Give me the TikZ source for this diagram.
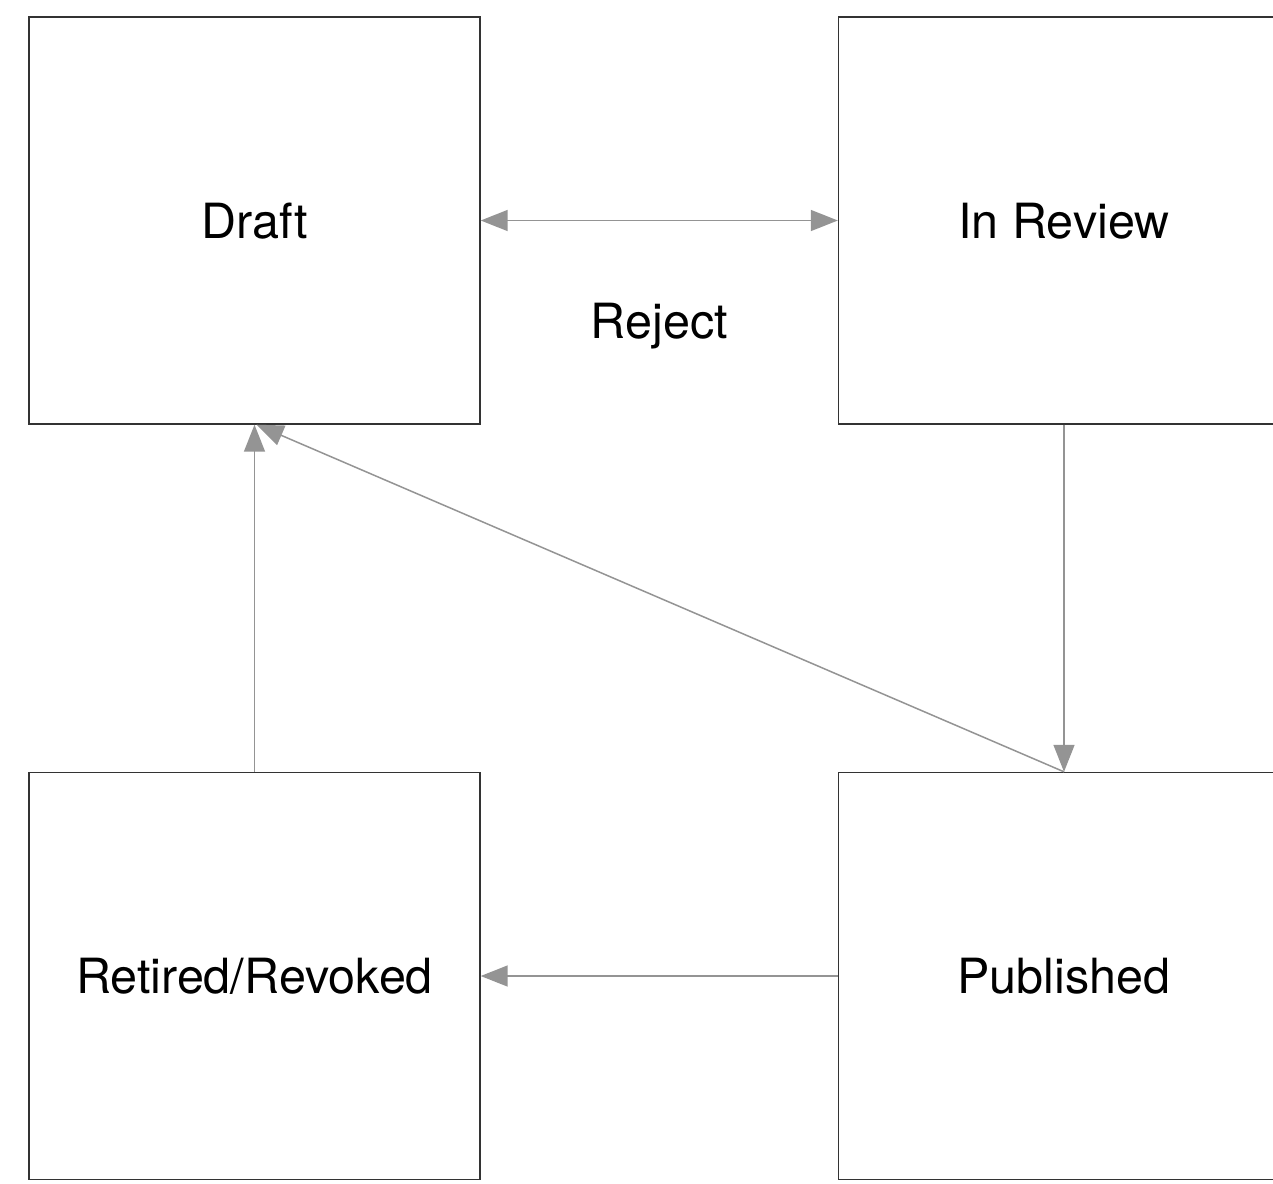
\documentclass[tikz,border=0pt]{standalone}
\usepackage{fontspec}
\setmainfont{TeX Gyre Heros}
\usetikzlibrary{arrows.meta}
\begin{document}
\begin{tikzpicture}[x=1pt,y=-1pt,
  state/.style={draw=black!80, line width=1.4pt, fill=white, minimum width=451pt, minimum height=407pt, inner sep=0pt, text depth=-3pt, font=\fontsize{48.5}{58}\selectfont},
  conn/.style={draw=black!42, line width=1.5pt, -{Triangle[length=27pt,width=21pt]}},
  lbl/.style={font=\fontsize{48.5}{58}\selectfont, inner sep=0pt}]
\clip (0,0) rectangle (1273,1183);
\useasboundingbox (0,0) rectangle (1273,1183);
\fill[white] (0,0) rectangle (1273,1183);
\node[state] (draft) at (254.5,220.5) {Draft};
\node[state] (review) at (1064,220.5) {In Review};
\node[state] (retired) at (254.5,976) {Retired/Revoked};
\node[state] (pub) at (1064,976) {Published};
\draw[conn, {Triangle[length=27pt,width=21pt]}-{Triangle[length=27pt,width=21pt]}] (draft) -- (review) node[lbl, midway, below=82pt] (rej) {Reject};
\draw[conn] (review) -- (pub);
\draw[conn] (pub.north) -- ([xshift=2pt]draft.south);
\draw[conn] (retired) -- (draft);
\draw[conn] (pub) -- (retired);
\end{tikzpicture}
\end{document}
